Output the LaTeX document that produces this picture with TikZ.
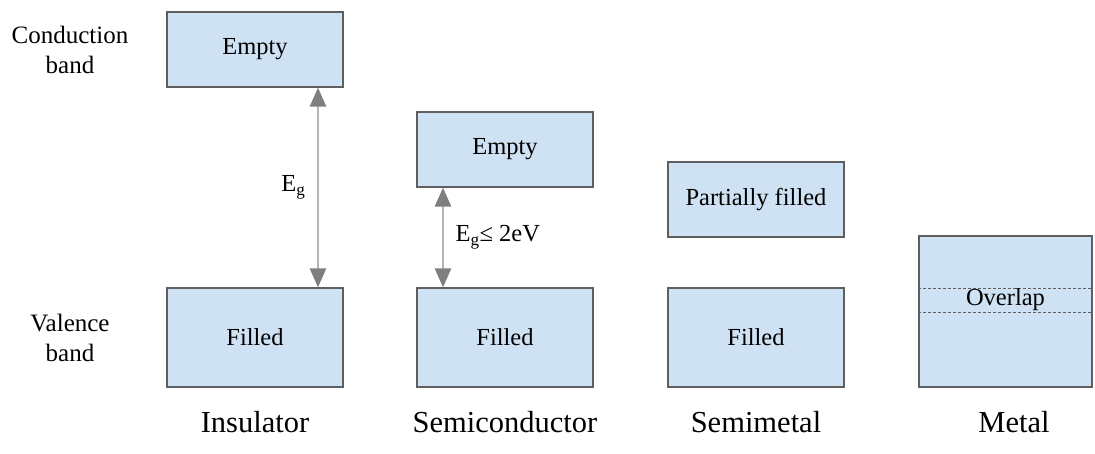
\documentclass[tikz,border=0pt]{standalone}
\usepackage{fontspec}
\setmainfont{Liberation Serif}
\usetikzlibrary{arrows.meta}
\definecolor{bandfill}{HTML}{CFE2F3}
\definecolor{bandline}{HTML}{5F5F5F}
\definecolor{gapline}{HTML}{B5B5B5}
\definecolor{gaptip}{HTML}{7F7F7F}
\tikzset{gapend/.tip={Triangle[length=19pt,width=16pt,color=gaptip]}}

\begin{document}
\begin{tikzpicture}[x=1pt,y=-1pt,
    band/.style={draw=bandline,fill=bandfill,line width=1.2pt,minimum width=176pt,
        minimum height=75pt,inner sep=0pt,font=\fontsize{24.5}{28}\selectfont},
    gap/.style={draw=gapline,line width=2.6pt,gapend-gapend},
    side/.style={align=center,font=\fontsize{25}{30}\selectfont},
    kind/.style={anchor=base,font=\fontsize{30.5}{34}\selectfont},
    overlapline/.style={draw=bandline,line width=1pt,dash pattern=on 3pt off 2pt}]
    \useasboundingbox (0,0) rectangle (1095,453);
    % Band names
    \node[side] (cb-name) at (70,50) {Conduction\\band};
    \node[side] (vb-name) at (70,338) {Valence\\band};
    % Insulator
    \begin{scope}[xshift=255pt]
        \node[band] (ins-cb) at (0,49.5) {Empty};
        \node[band,minimum height=99pt] (ins-vb) at (0,337.5) {Filled};
        \draw[gap] ([xshift=63pt]ins-cb.south) -- ([xshift=63pt]ins-vb.north)
            node[midway,left=8pt,font=\fontsize{24.5}{28}\selectfont] (ins-eg) {E\textsubscript{g}};
        \node[kind] (ins-name) at (0,432) {Insulator};
    \end{scope}
    % Semiconductor
    \begin{scope}[xshift=505pt]
        \node[band] (sc-cb) at (0,149.5) {Empty};
        \node[band,minimum height=99pt] (sc-vb) at (0,337.5) {Filled};
        \draw[gap] ([xshift=-62pt]sc-cb.south) -- ([xshift=-62pt]sc-vb.north)
            node[midway,right=8pt,font=\fontsize{24.5}{28}\selectfont] (sc-eg) {E\textsubscript{g}≤ 2eV};
        \node[kind] (sc-name) at (0,432) {Semiconductor};
    \end{scope}
    % Semimetal
    \begin{scope}[xshift=756pt]
        \node[band] (sm-cb) at (0,199.5) {Partially filled};
        \node[band,minimum height=99pt] (sm-vb) at (0,337.5) {Filled};
        \node[kind] (sm-name) at (0,432) {Semimetal};
    \end{scope}
    % Metal
    \begin{scope}[xshift=1005.5pt]
        \node[band,minimum width=173pt,minimum height=151pt] (met-band) at (0,311.5) {};
        \coordinate (met-top) at (0,288);
        \coordinate (met-bot) at (0,312);
        \draw[overlapline] (met-band.west |- met-top) -- (met-band.east |- met-top);
        \draw[overlapline] (met-band.west |- met-bot) -- (met-band.east |- met-bot);
        \node[font=\fontsize{24.5}{28}\selectfont] (met-overlap) at (0,300) {Overlap};
        \node[kind] (met-name) at (8.5,432) {Metal};
    \end{scope}
\end{tikzpicture}
\end{document}
